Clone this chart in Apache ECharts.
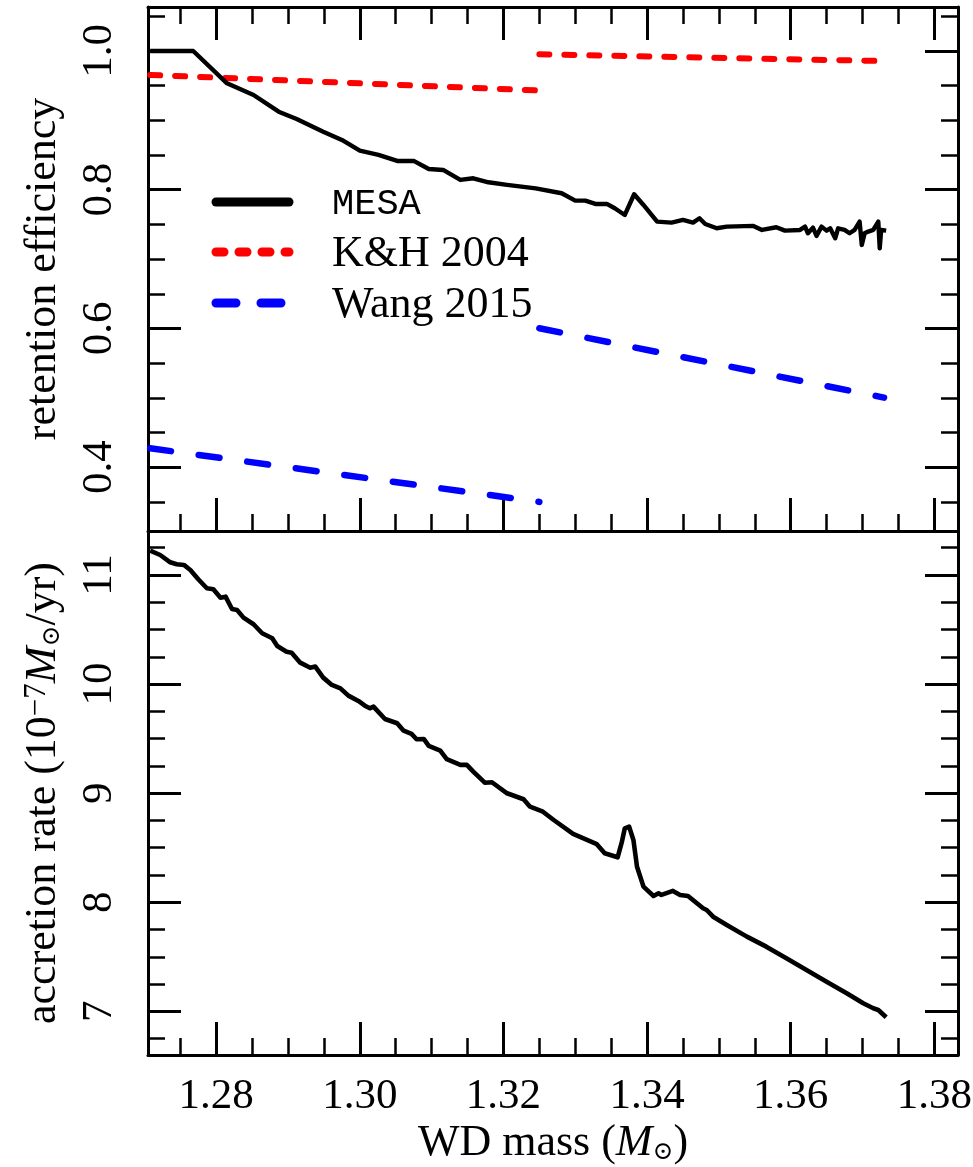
<!DOCTYPE html>
<html>
<head>
<meta charset="utf-8">
<script src="https://cdn.jsdelivr.net/npm/echarts@6/dist/echarts.min.js"></script>
<style>
  html, body { margin: 0; padding: 0; background: #ffffff; }
  #chart { width: 973px; height: 1167px; }
</style>
</head>
<body>
<div id="chart"></div>
<script>
// ---- axis ranges and ticks ----
const massRange = [1.2705, 1.3833];
const retentionRange = [0.308, 1.0634];
const accretionRange = [6.60, 11.403];

const xMajorTicks = [1.28, 1.30, 1.32, 1.34, 1.36, 1.38];
const xTickLabels = ['1.28', '1.30', '1.32', '1.34', '1.36', '1.38'];
const xMinorTicks = [1.275, 1.285, 1.29, 1.295, 1.305, 1.31, 1.315, 1.325, 1.33, 1.335,
                     1.345, 1.35, 1.355, 1.365, 1.37, 1.375];

const retentionMajorTicks = [0.4, 0.6, 0.8, 1.0];
const retentionTickLabels = ['0.4', '0.6', '0.8', '1.0'];
const retentionMinorTicks = [0.35, 0.45, 0.5, 0.55, 0.65, 0.7, 0.75, 0.85, 0.9, 0.95, 1.05];

const accretionMajorTicks = [7, 8, 9, 10, 11];
const accretionTickLabels = ['7', '8', '9', '10', '11'];
const accretionMinorTicks = [6.75, 7.25, 7.5, 7.75, 8.25, 8.5, 8.75, 9.25, 9.5, 9.75,
                             10.25, 10.5, 10.75, 11.25];

// ---- retention efficiency (top panel) ----
const mesaMass = [1.2708, 1.2768, 1.2815, 1.2852, 1.2887, 1.2912, 1.2949, 1.2975, 1.3000, 1.3026,
  1.3052, 1.3075, 1.3096, 1.3116, 1.3140, 1.3158, 1.3179, 1.3205, 1.3245, 1.3281,
  1.3300, 1.3314, 1.3328, 1.3344, 1.3355, 1.3369, 1.3382, 1.3395, 1.3414, 1.3434,
  1.3450, 1.3464, 1.3473, 1.3481, 1.3497, 1.3511, 1.3548, 1.3560, 1.3580, 1.3592,
  1.3613, 1.3620, 1.3624, 1.3631, 1.3636, 1.3643, 1.3650, 1.3655, 1.3662, 1.3666,
  1.3675, 1.3682, 1.3689, 1.3696, 1.3699, 1.3703, 1.3708, 1.3715, 1.3722, 1.3724,
  1.3726, 1.3733];
const mesaRetention = [1.000, 1.000, 0.9534, 0.9366, 0.9125, 0.9020, 0.8837, 0.8717, 0.8563, 0.8501,
  0.8415, 0.8415, 0.8299, 0.8285, 0.8141, 0.8165, 0.8107, 0.8070, 0.8020, 0.7949,
  0.7842, 0.7842, 0.7795, 0.7795, 0.7733, 0.7636, 0.7935, 0.7780, 0.7540, 0.7525,
  0.7564, 0.7525, 0.7588, 0.7506, 0.7444, 0.7468, 0.7478, 0.7420, 0.7459, 0.7410,
  0.7420, 0.7468, 0.7372, 0.7454, 0.7334, 0.7468, 0.7410, 0.7444, 0.7300, 0.7444,
  0.7420, 0.7372, 0.7420, 0.7540, 0.7204, 0.7372, 0.7396, 0.7420, 0.7540, 0.7156,
  0.7420, 0.7410];

// K&H 2004: two branches
const khMassLow = [1.2708, 1.3250];
const khRetentionLow = [0.9655, 0.9430];
const khMassHigh = [1.3250, 1.3724];
const khRetentionHigh = [0.9952, 0.9856];

// Wang 2015: two branches
const wangMassLow = [1.2708, 1.3250];
const wangRetentionLow = [0.4273, 0.3500];
const wangMassHigh = [1.3250, 1.3730];
const wangRetentionHigh = [0.6003, 0.5003];

// ---- accretion rate (bottom panel), units of 1e-7 Msun/yr ----
const accretionMass = [1.2708, 1.2722, 1.2736, 1.2745, 1.2755, 1.2764, 1.2775, 1.2787, 1.2796, 1.2806,
  1.2813, 1.2822, 1.2829, 1.2838, 1.2852, 1.2864, 1.2878, 1.2885, 1.2898, 1.2905,
  1.2917, 1.2931, 1.2938, 1.2949, 1.2961, 1.2973, 1.2984, 1.2998, 1.3007, 1.3014,
  1.3019, 1.3035, 1.3052, 1.3061, 1.3072, 1.3079, 1.3089, 1.3096, 1.3112, 1.3121,
  1.3140, 1.3149, 1.3158, 1.3174, 1.3184, 1.3205, 1.3228, 1.3237, 1.3255, 1.3270,
  1.3297, 1.3330, 1.3341, 1.3359, 1.3365, 1.3369, 1.3375, 1.3381, 1.3386, 1.3395,
  1.3409, 1.3416, 1.3420, 1.3436, 1.3446, 1.3457, 1.3478, 1.3483, 1.3492, 1.3511,
  1.3539, 1.3566, 1.3594, 1.3622, 1.3650, 1.3678, 1.3701, 1.3715, 1.3722, 1.3733];
const accretionRate = [11.223, 11.183, 11.116, 11.098, 11.092, 11.046, 10.961, 10.878, 10.869, 10.792,
  10.801, 10.688, 10.679, 10.609, 10.548, 10.466, 10.420, 10.349, 10.297, 10.288,
  10.196, 10.150, 10.160, 10.059, 9.992, 9.961, 9.894, 9.845, 9.802, 9.778,
  9.793, 9.680, 9.641, 9.573, 9.543, 9.494, 9.497, 9.433, 9.390, 9.311,
  9.259, 9.259, 9.197, 9.096, 9.100, 8.999, 8.944, 8.876, 8.830, 8.754,
  8.626, 8.532, 8.449, 8.412, 8.556, 8.678, 8.693, 8.571, 8.326, 8.143,
  8.058, 8.083, 8.067, 8.104, 8.067, 8.058, 7.945, 7.929, 7.868, 7.792,
  7.685, 7.593, 7.487, 7.380, 7.272, 7.166, 7.074, 7.028, 7.013, 6.946];

// ---- styling helpers ----
const SERIF = '"Liberation Serif", "DejaVu Serif", serif';
const MONO = '"Liberation Mono", "DejaVu Sans Mono", monospace';
const TICK_FS = 43;
const TITLE_FS = 44;
const LEGEND_FS = 44;
const MAJOR_LEN = 33, MINOR_LEN = 17;

const zip = (xs, ys) => xs.map((x, i) => [x, ys[i]]);
const labelFor = (ticks, labels) => (v) => {
  const i = ticks.findIndex(t => Math.abs(t - v) < 1e-9);
  return i >= 0 ? labels[i] : '';
};

function tickAxis(gridIndex, position, range, ticks, len, width, extra) {
  return Object.assign({
    type: 'value',
    gridIndex: gridIndex,
    position: position,
    min: range[0],
    max: range[1],
    axisLine: { show: false, onZero: false },
    axisTick: {
      show: true, inside: true, length: len, customValues: ticks,
      lineStyle: { color: '#000', width: width }
    },
    axisLabel: { show: false },
    splitLine: { show: false },
    axisPointer: { show: false }
  }, extra || {});
}
const frameLine = { show: true, onZero: false, lineStyle: { color: '#000', width: 3 } };

const richName = {
  sup: { fontFamily: SERIF, fontSize: 31, verticalAlign: 'top', color: '#000' },
  it: { fontFamily: SERIF, fontSize: TITLE_FS, fontStyle: 'italic', color: '#000' },
  sub: { fontFamily: '"DejaVu Serif", serif', fontSize: 25, verticalAlign: 'bottom', color: '#000' }
};

const xAxes = [
  // top panel: bottom edge and top edge
  tickAxis(0, 'bottom', massRange, xMajorTicks, MAJOR_LEN, 3, { axisLine: frameLine }),
  tickAxis(0, 'bottom', massRange, xMinorTicks, MINOR_LEN, 2.5),
  tickAxis(0, 'top', massRange, xMajorTicks, MAJOR_LEN, 3, { axisLine: frameLine }),
  tickAxis(0, 'top', massRange, xMinorTicks, MINOR_LEN, 2.5),
  // bottom panel: labelled bottom edge
  tickAxis(1, 'bottom', massRange, xMajorTicks, MAJOR_LEN, 3, {
    axisLine: frameLine,
    axisLabel: {
      show: true, customValues: xMajorTicks, formatter: labelFor(xMajorTicks, xTickLabels),
      margin: 20, fontFamily: SERIF, fontSize: TICK_FS, color: '#000'
    },
    name: 'WD mass ({it|M}{sub|⊙})',
    nameLocation: 'middle',
    nameGap: 66,
    nameTextStyle: { fontFamily: SERIF, fontSize: TITLE_FS, color: '#000', rich: richName }
  }),
  tickAxis(1, 'bottom', massRange, xMinorTicks, MINOR_LEN, 2.5)
];

const yAxes = [
  // top panel
  tickAxis(0, 'left', retentionRange, retentionMajorTicks, MAJOR_LEN, 3, {
    axisLine: frameLine,
    axisLabel: {
      show: true, customValues: retentionMajorTicks,
      formatter: labelFor(retentionMajorTicks, retentionTickLabels),
      rotate: 90, margin: 27, fontFamily: SERIF, fontSize: TICK_FS, color: '#000'
    },
    name: 'retention efficiency',
    nameLocation: 'middle',
    nameRotate: 90,
    nameGap: 83,
    nameTextStyle: { fontFamily: SERIF, fontSize: TITLE_FS, color: '#000' }
  }),
  tickAxis(0, 'left', retentionRange, retentionMinorTicks, MINOR_LEN, 2.5),
  tickAxis(0, 'right', retentionRange, retentionMajorTicks, MAJOR_LEN, 3, { axisLine: frameLine }),
  tickAxis(0, 'right', retentionRange, retentionMinorTicks, MINOR_LEN, 2.5),
  // bottom panel
  tickAxis(1, 'left', accretionRange, accretionMajorTicks, MAJOR_LEN, 3, {
    axisLine: frameLine,
    axisLabel: {
      show: true, customValues: accretionMajorTicks,
      formatter: labelFor(accretionMajorTicks, accretionTickLabels),
      rotate: 90, margin: 27, fontFamily: SERIF, fontSize: TICK_FS, color: '#000'
    },
    name: 'accretion rate (10{sup|−7}{it|M}{sub|⊙}/yr)',
    nameLocation: 'middle',
    nameRotate: 90,
    nameGap: 83,
    nameTextStyle: { fontFamily: SERIF, fontSize: TITLE_FS, color: '#000', rich: richName }
  }),
  tickAxis(1, 'left', accretionRange, accretionMinorTicks, MINOR_LEN, 2.5),
  tickAxis(1, 'right', accretionRange, accretionMajorTicks, MAJOR_LEN, 3, { axisLine: frameLine }),
  tickAxis(1, 'right', accretionRange, accretionMinorTicks, MINOR_LEN, 2.5)
];

function lineSeries(name, xi, yi, data, style) {
  return {
    type: 'line', name: name, xAxisIndex: xi, yAxisIndex: yi,
    data: data, showSymbol: false, symbol: 'none', smooth: false,
    clip: true, silent: true,
    lineStyle: Object.assign({ join: 'round' }, style),
    emphasis: { disabled: true }
  };
}
const redDash = { color: '#ff0000', width: 6, type: [10, 15], cap: 'round' };
const blueDash = { color: '#0000ff', width: 6.5, type: [21, 28], cap: 'round' };

const series = [
  lineSeries('K&H 2004', 0, 0, zip(khMassLow, khRetentionLow), redDash),
  lineSeries('K&H 2004', 0, 0, zip(khMassHigh, khRetentionHigh), redDash),
  lineSeries('Wang 2015', 0, 0, zip(wangMassLow, wangRetentionLow), blueDash),
  lineSeries('Wang 2015', 0, 0, zip(wangMassHigh, wangRetentionHigh), blueDash),
  lineSeries('MESA', 0, 0, zip(mesaMass, mesaRetention), { color: '#000', width: 4.4 }),
  lineSeries('MESA', 4, 4, zip(accretionMass, accretionRate), { color: '#000', width: 4.6 })
];

// legend block (line samples + labels) inside the top panel
const legendRows = [
  { y: 202, text: 'MESA', font: '37px ' + MONO, style: { stroke: '#000' } },
  { y: 252, text: 'K&H 2004', font: LEGEND_FS + 'px ' + SERIF, style: { stroke: '#ff0000', lineDash: [8, 15] } },
  { y: 303, text: 'Wang 2015', font: LEGEND_FS + 'px ' + SERIF, style: { stroke: '#0000ff', lineDash: [20, 25] } }
];
const legendGraphics = [];
legendRows.forEach(r => {
  legendGraphics.push({
    type: 'line', z: 10, silent: true,
    shape: { x1: 216, y1: r.y, x2: 289, y2: r.y },
    style: Object.assign({ lineWidth: 9, lineCap: 'round' }, r.style)
  });
  legendGraphics.push({
    type: 'text', z: 10, silent: true, x: 332, y: r.y + 2,
    style: { text: r.text, font: r.font, fill: '#000', verticalAlign: 'middle', align: 'left' }
  });
});

const chart = echarts.init(document.getElementById('chart'), null, { renderer: 'canvas' });
chart.setOption({
  animation: false,
  backgroundColor: '#ffffff',
  textStyle: { fontFamily: SERIF, color: '#000' },
  grid: [
    { left: 148, width: 810, top: 7, height: 524, containLabel: false, outerBoundsMode: 'none' },
    { left: 148, width: 810, top: 531, height: 524, containLabel: false, outerBoundsMode: 'none' }
  ],
  xAxis: xAxes,
  yAxis: yAxes,
  series: series,
  graphic: legendGraphics
});
</script>
</body>
</html>
